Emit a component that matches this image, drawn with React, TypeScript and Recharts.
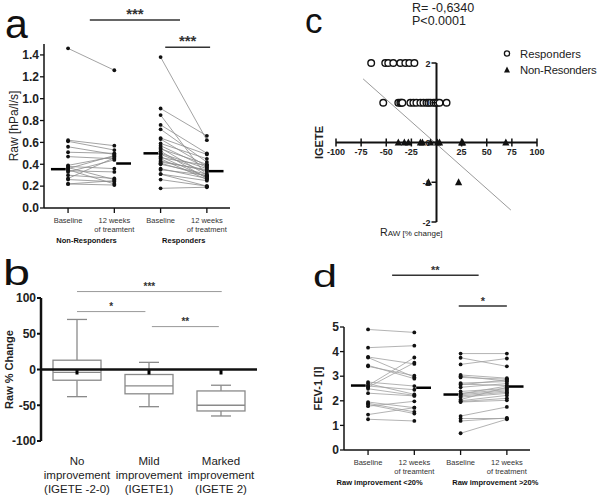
import React from "react";
import {
  ComposedChart,
  ScatterChart,
  Line,
  Bar,
  Scatter,
  XAxis,
  YAxis,
  ReferenceLine,
} from "recharts";

const FONT = '"Liberation Sans", Arial, Helvetica, sans-serif';

// ---------- panel a : Raw [hPa/l/s], baseline vs 12 weeks ----------
const A_NR_BASE = [1.46, 0.62, 0.61, 0.56, 0.51, 0.47, 0.39, 0.38, 0.37, 0.36, 0.35, 0.34, 0.33, 0.3, 0.27, 0.26, 0.22, 0.22];
const A_NR_12W = [1.26, 0.57, 0.53, 0.49, 0.5, 0.45, 0.47, 0.36, 0.26, 0.48, 0.22, 0.33, 0.44, 0.27, 0.46, 0.24, 0.21, 0.25];
const A_R_BASE = [1.38, 0.91, 0.85, 0.76, 0.72, 0.64, 0.63, 0.59, 0.57, 0.55, 0.54, 0.52, 0.5, 0.49, 0.47, 0.46, 0.45, 0.43, 0.42, 0.41, 0.4, 0.36, 0.35, 0.31, 0.31, 0.26, 0.18];
const A_R_12W = [0.62, 0.66, 0.29, 0.5, 0.42, 0.49, 0.38, 0.45, 0.37, 0.3, 0.4, 0.27, 0.36, 0.33, 0.28, 0.39, 0.26, 0.34, 0.35, 0.29, 0.31, 0.27, 0.3, 0.25, 0.2, 0.2, 0.19];
const A_MEDIANS = [0.355, 0.407, 0.5, 0.337];
const A_Y_TICKS = [0, 0.2, 0.4, 0.6, 0.8, 1.0, 1.2, 1.4];
const A_SIG = [
  { x1: 1.47, x2: 3.42, y: 1.72, label: "***" },
  { x1: 3.1, x2: 4.07, y: 1.47, label: "***" },
];
const A_GROUPS = ["Non-Responders", "Responders"];
const A_GROUP_X = [1.4, 3.5];

// ---------- panel d : FEV-1 [l] ----------
const D_NR_BASE = [4.9, 4.16, 3.78, 3.76, 3.44, 3.4, 2.76, 2.7, 2.62, 2.55, 2.49, 2.31, 1.95, 1.9, 1.85, 1.78, 1.44, 1.25, 2.6];
const D_NR_12W = [4.78, 4.24, 3.5, 2.96, 2.9, 3.02, 2.6, 2.26, 3.76, 3.55, 2.22, 2.2, 1.72, 1.55, 1.48, 1.98, 1.72, 1.18, 2.45];
const D_R_BASE = [3.92, 3.75, 3.48, 3.05, 3.0, 2.95, 2.72, 2.68, 2.65, 2.55, 2.38, 2.3, 2.28, 2.25, 2.2, 2.15, 2.05, 2.0, 1.97, 1.95, 1.38, 1.28, 1.18, 0.68];
const D_R_12W = [3.92, 3.4, 3.72, 2.92, 2.8, 2.88, 2.78, 2.62, 2.85, 2.7, 2.5, 2.45, 2.6, 2.4, 2.35, 2.3, 2.55, 2.22, 2.1, 2.02, 1.75, 1.28, 1.3, 1.25];
const D_MEDIANS = [2.62, 2.53, 2.255, 2.58];
const D_Y_TICKS = [0, 1, 2, 3, 4, 5];
const D_SIG = [
  { x1: 1.52, x2: 3.39, y: 7.1, label: "**" },
  { x1: 2.96, x2: 4.0, y: 5.85, label: "*" },
];
const D_GROUPS = ["Raw improvement <20%", "Raw improvement >20%"];
const D_GROUP_X = [1.25, 3.75];

const PAIR_X = [1, 2, 3, 4];
const PAIR_TICK_LABELS = [["Baseline"], ["12 weeks", "of treamtent"], ["Baseline"], ["12 weeks", "of treatment"]];

// ---------- panel b : Raw % change box plots ----------
const BOX_POS = [1, 2, 3];
const BOX_LABELS = [
  ["No", "improvement", "(IGETE -2-0)"],
  ["Mild", "improvement", "(IGETE1)"],
  ["Marked", "improvement", "(IGETE 2)"],
];
const BOX_MIN = [-38, -52, -65];
const BOX_Q1 = [-15, -34, -58];
const BOX_MED = [-4, -23, -50];
const BOX_Q3 = [13, -7, -30];
const BOX_MAX = [70, 10, -22];
const B_Y_TICKS = [-100, -50, 0, 50, 100];
const B_SIG = [
  { x1: 1, x2: 3.01, y: 109, label: "***" },
  { x1: 1, x2: 1.95, y: 81, label: "*" },
  { x1: 2.04, x2: 2.97, y: 60, label: "**" },
];

// ---------- panel c : IGETE vs Raw % change ----------
const RESP_X_AT2 = [-65, -51, -48, -43, -36, -31, -27, -22];
const RESP_X_AT1 = [-53, -38, -36, -35, -34, -26, -23, -20, -16, -13, -10, -8, -6, -3, -1, 1, 3, 10];
const NONRESP_X_AT0 = [-38, -32, -28, -16, -14, -6, 1, 3, 25, 26, 69];
const NONRESP_X_ATM1 = [-8, 22];
const FIT_LINE = [
  { x: -73, y: 1.6 },
  { x: 74, y: -1.7 },
];
const C_X_TICKS = [-100, -75, -50, -25, 25, 50, 75, 100];
const C_Y_TICKS = [-2, -1, 0, 1, 2];

const responders = [
  ...RESP_X_AT2.map((x) => ({ x, y: 2 })),
  ...RESP_X_AT1.map((x) => ({ x, y: 1 })),
];
const nonResponders = [
  ...NONRESP_X_AT0.map((x) => ({ x, y: 0 })),
  ...NONRESP_X_ATM1.map((x) => ({ x, y: -1 })),
];

function buildPairRows(nrB: number[], nrA: number[], rB: number[], rA: number[]) {
  const rows: any[] = PAIR_X.map((x) => ({ x }));
  nrB.forEach((v, i) => {
    rows[0]["n" + i] = v;
    rows[1]["n" + i] = nrA[i];
  });
  rB.forEach((v, i) => {
    rows[2]["r" + i] = v;
    rows[3]["r" + i] = rA[i];
  });
  return rows;
}

const pairTick = (groupX: number[], groups: string[]) => (props: any) => {
  const { x, y, payload } = props;
  const v = payload.value;
  const gi = groupX.indexOf(v);
  if (gi >= 0) {
    return (
      <text x={x} y={y + 30} textAnchor="middle" fontSize={7.5} fontWeight="bold" fill="#111">
        {groups[gi]}
      </text>
    );
  }
  const lines = PAIR_TICK_LABELS[PAIR_X.indexOf(v)] || [];
  return (
    <g>
      <line x1={x} x2={x} y1={y - 5} y2={y} stroke="#111" strokeWidth={1.3} />
      {lines.map((t, i) => (
        <text key={i} x={x} y={y + 10 + i * 9} textAnchor="middle" fontSize={7.5} fill="#333">
          {t}
        </text>
      ))}
    </g>
  );
};

type PairedProps = {
  left: number;
  top: number;
  height: number;
  marginTop: number;
  marginBottom: number;
  xAxisHeight: number;
  rows: any[];
  nrCount: number;
  rCount: number;
  yDomain: [number, number];
  yTicks: number[];
  yFmt: (v: number) => string;
  yLabel: string;
  yLabelBold: boolean;
  yLabelOffset: number;
  medians: number[];
  sig: { x1: number; x2: number; y: number; label: string }[];
  sigFont: number;
  groupX: number[];
  groups: string[];
  lineColor: string;
};

function PairedPanel(p: PairedProps) {
  const medSeg = (i: number) => {
    const c = PAIR_X[i];
    const [a, b] = i % 2 === 0 ? [c - 0.37, c - 0.05] : [c + 0.04, c + 0.36];
    return [
      { x: a, y: p.medians[i] },
      { x: b, y: p.medians[i] },
    ];
  };
  return (
    <div style={{ position: "absolute", left: p.left, top: p.top }}>
      <ComposedChart
        width={300}
        height={p.height}
        data={p.rows}
        margin={{ top: p.marginTop, right: 70, bottom: p.marginBottom, left: 10 }}
      >
        <XAxis
          dataKey="x"
          type="number"
          domain={[0.48, 4.5]}
          ticks={[...PAIR_X, ...p.groupX]}
          interval={0}
          height={p.xAxisHeight}
          tickSize={5}
          tickMargin={0}
          tickLine={false}
          axisLine={{ stroke: "#111", strokeWidth: 1.5 }}
          tick={pairTick(p.groupX, p.groups)}
        />
        <YAxis
          type="number"
          domain={p.yDomain}
          ticks={p.yTicks}
          interval={0}
          width={34}
          tickSize={4}
          tickMargin={1}
          tickFormatter={p.yFmt}
          axisLine={{ stroke: "#111", strokeWidth: 1.5 }}
          tickLine={{ stroke: "#111", strokeWidth: 1.3 }}
          tick={{ fontSize: 12, fontWeight: "bold", fill: "#222" }}
          label={{
            value: p.yLabel,
            angle: -90,
            position: "insideLeft",
            offset: p.yLabelOffset,
            style: { textAnchor: "middle", fontSize: p.yLabelBold ? 11 : 12, fontWeight: p.yLabelBold ? "bold" : "normal", fill: "#222" },
          }}
        />
        {Array.from({ length: p.nrCount }, (_, i) => (
          <Line
            key={"n" + i}
            dataKey={"n" + i}
            stroke={p.lineColor}
            strokeWidth={0.8}
            dot={{ r: 1.9, fill: "#111", stroke: "#111", strokeWidth: 0 }}
            activeDot={false}
            isAnimationActive={false}
          />
        ))}
        {Array.from({ length: p.rCount }, (_, i) => (
          <Line
            key={"r" + i}
            dataKey={"r" + i}
            stroke={p.lineColor}
            strokeWidth={0.8}
            dot={{ r: 1.9, fill: "#111", stroke: "#111", strokeWidth: 0 }}
            activeDot={false}
            isAnimationActive={false}
          />
        ))}
        {p.medians.map((_, i) => (
          <ReferenceLine key={"m" + i} segment={medSeg(i)} stroke="#000" strokeWidth={2.5} />
        ))}
        {p.sig.map((s, i) => (
          <ReferenceLine
            key={"s" + i}
            segment={[
              { x: s.x1, y: s.y },
              { x: s.x2, y: s.y },
            ]}
            ifOverflow="visible"
            stroke="#333"
            strokeWidth={1.5}
            label={{ value: s.label, position: "top", offset: 1, fontSize: p.sigFont, fontWeight: "bold", fill: "#333" }}
          />
        ))}
      </ComposedChart>
    </div>
  );
}

const boxRows = BOX_POS.map((pos, i) => ({
  pos,
  range: [BOX_MIN[i], BOX_MAX[i]],
  min: BOX_MIN[i],
  q1: BOX_Q1[i],
  med: BOX_MED[i],
  q3: BOX_Q3[i],
  max: BOX_MAX[i],
}));

const BoxShape = (props: any) => {
  const { x, y, width, height, payload } = props;
  const top = Math.min(y, y + height);
  const h = Math.abs(height);
  const span = payload.max - payload.min;
  const py = (v: number) => top + ((payload.max - v) / span) * h;
  const cx = x + width / 2;
  const cap = 10;
  const st = { stroke: "#8a8a8a", strokeWidth: 1.3 };
  return (
    <g>
      <line x1={cx} x2={cx} y1={py(payload.max)} y2={py(payload.q3)} {...st} />
      <line x1={cx} x2={cx} y1={py(payload.q1)} y2={py(payload.min)} {...st} />
      <line x1={cx - cap} x2={cx + cap} y1={py(payload.max)} y2={py(payload.max)} {...st} />
      <line x1={cx - cap} x2={cx + cap} y1={py(payload.min)} y2={py(payload.min)} {...st} />
      <rect x={x} y={py(payload.q3)} width={width} height={py(payload.q1) - py(payload.q3)} fill="#fff" {...st} />
      <line x1={x} x2={x + width} y1={py(payload.med)} y2={py(payload.med)} {...st} />
      <line x1={cx} x2={cx} y1={py(0)} y2={py(0) + 5} stroke="#000" strokeWidth={3} />
    </g>
  );
};

const boxTick = (props: any) => {
  const { x, y, payload } = props;
  const lines = BOX_LABELS[BOX_POS.indexOf(payload.value)] || [];
  return (
    <g>
      {lines.map((t, i) => (
        <text key={i} x={x} y={y + 24 + i * 14} textAnchor="middle" fontSize={11.5} fill="#222">
          {t}
        </text>
      ))}
    </g>
  );
};

function BoxPanel() {
  return (
    <div style={{ position: "absolute", left: 0, top: 250 }}>
      <ComposedChart width={300} height={249} data={boxRows} margin={{ top: 48, right: 43, bottom: 2, left: 5 }}>
        <XAxis
          dataKey="pos"
          type="number"
          domain={[0.5, 3.5]}
          ticks={BOX_POS}
          height={56}
          axisLine={false}
          tickLine={false}
          tickSize={0}
          tickMargin={0}
          interval={0}
          tick={boxTick}
        />
        <YAxis
          type="number"
          domain={[-100, 100]}
          ticks={B_Y_TICKS}
          interval={0}
          width={36}
          tickSize={4}
          tickMargin={1}
          axisLine={{ stroke: "#111", strokeWidth: 2.5 }}
          tickLine={{ stroke: "#111", strokeWidth: 2 }}
          tick={{ fontSize: 12, fontWeight: "bold", fill: "#222" }}
          label={{
            value: "Raw % Change",
            angle: -90,
            position: "insideLeft",
            offset: 4,
            style: { textAnchor: "middle", fontSize: 11, fontWeight: "bold", fill: "#222" },
          }}
        />
        <ReferenceLine y={0} stroke="#111" strokeWidth={2.5} />
        <Bar dataKey="range" barSize={48} shape={BoxShape} isAnimationActive={false} />
        {B_SIG.map((s, i) => (
          <ReferenceLine
            key={i}
            segment={[
              { x: s.x1, y: s.y },
              { x: s.x2, y: s.y },
            ]}
            ifOverflow="visible"
            stroke="#999"
            strokeWidth={1}
            label={{ value: s.label, position: "top", offset: 2, fontSize: 10, fontWeight: "bold", fill: "#333" }}
          />
        ))}
      </ComposedChart>
    </div>
  );
}

const C_PLOT_W = 201;
const C_PLOT_H = 159;

const cXTick = (props: any) => {
  const { x, y, payload } = props;
  const zeroY = y - C_PLOT_H / 2 - 1;
  return (
    <g>
      <line x1={x} x2={x} y1={zeroY - 3} y2={zeroY + 5} stroke="#111" strokeWidth={1.5} />
      <text x={x} y={zeroY + 13} textAnchor="middle" fontSize={9} fontWeight="bold" fill="#222">
        {payload.value}
      </text>
    </g>
  );
};

const cYTick = (props: any) => {
  const { x, y, payload } = props;
  const zeroX = x + C_PLOT_W / 2;
  return (
    <g>
      <line x1={zeroX - 5} x2={zeroX} y1={y} y2={y} stroke="#111" strokeWidth={1.5} />
      <text x={zeroX - 6} y={y + 3.5} textAnchor="end" fontSize={9} fontWeight="bold" fill="#222">
        {payload.value}
      </text>
    </g>
  );
};

const OpenCircle = (props: any) => (
  <circle cx={props.cx} cy={props.cy} r={3.3} fill="#fff" stroke="#111" strokeWidth={1.4} />
);
const FilledTriangle = (props: any) => {
  const { cx, cy } = props;
  return <polygon points={`${cx},${cy - 4} ${cx - 3.6},${cy + 3} ${cx + 3.6},${cy + 3}`} fill="#111" />;
};

function ScatterPanel() {
  return (
    <div style={{ position: "absolute", left: 300, top: 0 }}>
      <ScatterChart width={300} height={250} margin={{ top: 63, right: 63, bottom: 8, left: 6 }}>
        <XAxis
          dataKey="x"
          type="number"
          domain={[-100, 100]}
          ticks={C_X_TICKS}
          interval={0}
          height={20}
          tickSize={0}
          tickMargin={0}
          axisLine={false}
          tickLine={false}
          tick={cXTick}
        />
        <YAxis
          dataKey="y"
          type="number"
          domain={[-2, 2]}
          ticks={C_Y_TICKS}
          interval={0}
          width={30}
          tickSize={0}
          tickMargin={0}
          axisLine={false}
          tickLine={false}
          tick={cYTick}
          label={{
            value: "IGETE",
            angle: -90,
            position: "insideLeft",
            offset: 13,
            style: { textAnchor: "middle", fontSize: 11, fontWeight: "bold", fill: "#222" },
          }}
        />
        <ReferenceLine segment={FIT_LINE} stroke="#9a9a9a" strokeWidth={1} />
        <ReferenceLine x={0} stroke="#111" strokeWidth={2} />
        <ReferenceLine y={0} stroke="#111" strokeWidth={2} />
        <Scatter data={responders} shape={OpenCircle} isAnimationActive={false} />
        <Scatter data={nonResponders} shape={FilledTriangle} isAnimationActive={false} />
      </ScatterChart>
    </div>
  );
}

export default function App() {
  return (
    <div
      style={{
        position: "absolute",
        left: 0,
        top: 0,
        width: 600,
        height: 499,
        background: "#fff",
        fontFamily: FONT,
        overflow: "hidden",
        color: "#111",
      }}
    >
      <PairedPanel
        left={0}
        top={0}
        height={250}
        marginTop={44}
        marginBottom={6}
        xAxisHeight={36}
        rows={buildPairRows(A_NR_BASE, A_NR_12W, A_R_BASE, A_R_12W)}
        nrCount={A_NR_BASE.length}
        rCount={A_R_BASE.length}
        yDomain={[0, 1.5]}
        yTicks={A_Y_TICKS}
        yFmt={(v) => v.toFixed(1)}
        yLabel="Raw [hPa/l/s]"
        yLabelBold={false}
        yLabelOffset={4}
        medians={A_MEDIANS}
        sig={A_SIG}
        sigFont={15}
        groupX={A_GROUP_X}
        groups={A_GROUPS}
        lineColor="#8c8c8c"
      />
      <PairedPanel
        left={300}
        top={250}
        height={249}
        marginTop={77}
        marginBottom={9}
        xAxisHeight={40}
        rows={buildPairRows(D_NR_BASE, D_NR_12W, D_R_BASE, D_R_12W)}
        nrCount={D_NR_BASE.length}
        rCount={D_R_BASE.length}
        yDomain={[0, 5]}
        yTicks={D_Y_TICKS}
        yFmt={(v) => String(v)}
        yLabel="FEV-1 [l]"
        yLabelBold={true}
        yLabelOffset={8}
        medians={D_MEDIANS}
        sig={D_SIG}
        sigFont={11}
        groupX={D_GROUP_X}
        groups={D_GROUPS}
        lineColor="#a0a0a0"
      />
      <BoxPanel />
      <ScatterPanel />

      {/* panel letters and panel c annotations */}
      <svg width={600} height={499} style={{ position: "absolute", left: 0, top: 0, pointerEvents: "none" }}>
        <text x={5} y={38} fontSize={41} fill="#111">a</text>
        <text transform="translate(3,285) scale(1.35,1)" fontSize={36} fill="#111">b</text>
        <text x={305} y={33} fontSize={35} fill="#111">c</text>
        <text transform="translate(313,287) scale(1.35,1)" fontSize={32} fill="#111">d</text>

        <text x={412} y={12} fontSize={12.5} fill="#222">R= -0,6340</text>
        <text x={412} y={25} fontSize={12.5} fill="#222">P&lt;0.0001</text>

        <circle cx={507} cy={53.5} r={2.6} fill="#fff" stroke="#111" strokeWidth={1.3} />
        <text x={520} y={57.5} fontSize={11.3} fill="#222">Responders</text>
        <polygon points="507,66.5 504,72.5 510,72.5" fill="#111" />
        <text x={520} y={73.5} fontSize={11.3} letterSpacing={-0.2} fill="#222">Non-Resonders</text>

        <text x={380} y={235.5} fill="#222">
          <tspan fontSize={10.7}>R</tspan>
          <tspan fontSize={8}>AW</tspan>
          <tspan fontSize={8}> [% change]</tspan>
        </text>
      </svg>
    </div>
  );
}
